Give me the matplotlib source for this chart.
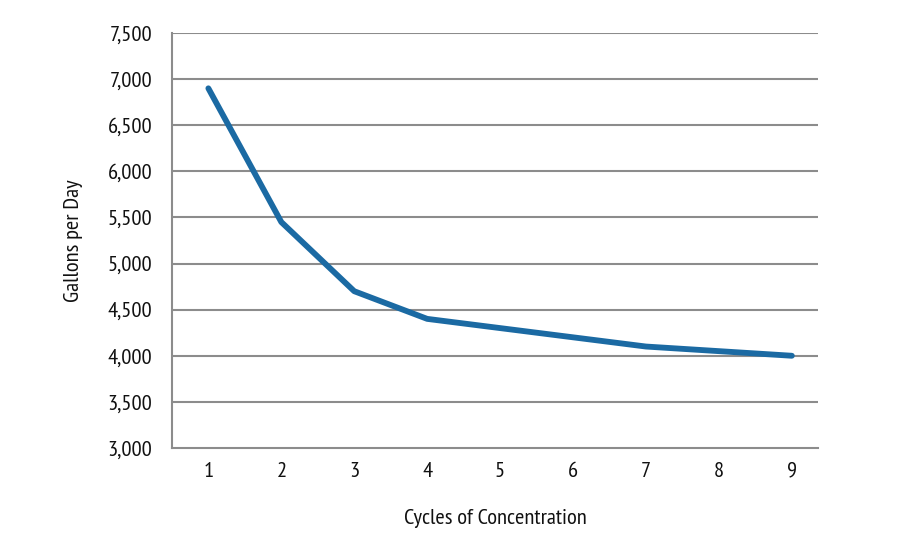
import matplotlib
matplotlib.use("Agg")
import matplotlib.pyplot as plt
from matplotlib.ticker import FuncFormatter

# Data
cycles = [1, 2, 3, 4, 5, 6, 7, 8, 9]
gallons = [6900, 5450, 4700, 4400, 4300, 4200, 4100, 4050, 4000]
y_ticks = [3000, 3500, 4000, 4500, 5000, 5500, 6000, 6500, 7000, 7500]

plt.rcParams['font.family'] = ['PT Sans Narrow', 'Fira Sans Condensed', 'DejaVu Sans']

fig = plt.figure(figsize=(9, 5.5), dpi=100)
ax = fig.add_axes([0.191, 0.1855, 0.718, 0.7545])

for t in y_ticks[1:]:
    ax.axhline(t, color='#8c8c8c', lw=1.5, zorder=1)

ax.plot(cycles, gallons, color='#1b6aa3', lw=4.2, solid_capstyle='round',
        solid_joinstyle='round', zorder=3)

ax.set_xlim(0.5, 9.36)
ax.set_ylim(3000, 7500)
ax.set_xticks(cycles)
ax.set_yticks(y_ticks)
ax.yaxis.set_major_formatter(FuncFormatter(lambda v, p: f"{int(v):,}"))

for side in ['top', 'right']:
    ax.spines[side].set_visible(False)
ax.spines['left'].set_color('#8c8c8c')
ax.spines['bottom'].set_color('#8c8c8c')
ax.spines['left'].set_linewidth(1.5)
ax.spines['bottom'].set_linewidth(1.5)

ax.tick_params(axis='both', length=0, labelsize=16.2, colors='#111111')
ax.tick_params(axis='y', pad=14)
ax.tick_params(axis='x', pad=10)

ax.set_xlabel("Cycles of Concentration", fontsize=16.2, labelpad=20, color='#111111')
ax.set_ylabel("Gallons per Day", fontsize=16.2, labelpad=18, color='#111111')

fig.savefig("out.png", dpi=100, facecolor='white')
